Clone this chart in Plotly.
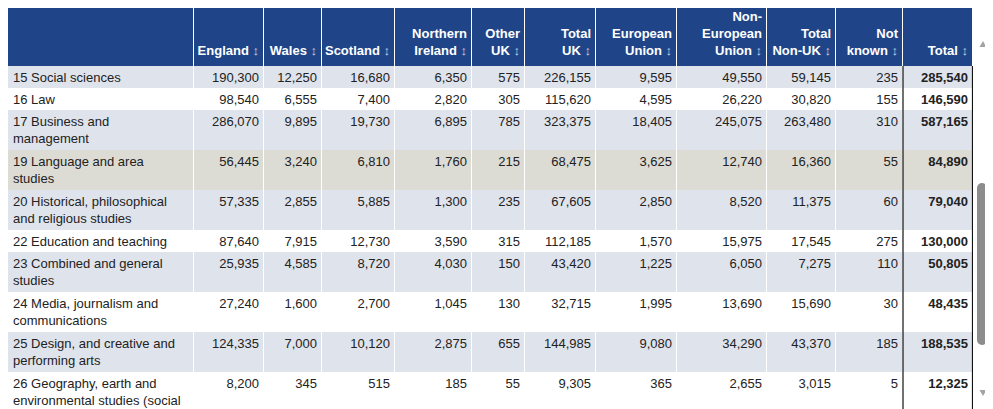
import numpy as np
import plotly.graph_objects as go

# ---------------- data ----------------
subjects = [
    "15 Social sciences",
    "16 Law",
    "17 Business and<br>management",
    "19 Language and area<br>studies",
    "20 Historical, philosophical<br>and religious studies",
    "22 Education and teaching",
    "23 Combined and general<br>studies",
    "24 Media, journalism and<br>communications",
    "25 Design, and creative and<br>performing arts",
    "26 Geography, earth and<br>environmental studies (social<br>sciences)",
]
england = [190300, 98540, 286070, 56445, 57335, 87640, 25935, 27240, 124335, 8200]
wales = [12250, 6555, 9895, 3240, 2855, 7915, 4585, 1600, 7000, 345]
scotland = [16680, 7400, 19730, 6810, 5885, 12730, 8720, 2700, 10120, 515]
northern_ireland = [6350, 2820, 6895, 1760, 1300, 3590, 4030, 1045, 2875, 185]
other_uk = [575, 305, 785, 215, 235, 315, 150, 130, 655, 55]
total_uk = [226155, 115620, 323375, 68475, 67605, 112185, 43420, 32715, 144985, 9305]
european_union = [9595, 4595, 18405, 3625, 2850, 1570, 1225, 1995, 9080, 365]
non_eu = [49550, 26220, 245075, 12740, 8520, 15975, 6050, 13690, 34290, 2655]
total_non_uk = [59145, 30820, 263480, 16360, 11375, 17545, 7275, 15690, 43370, 3015]
not_known = [235, 155, 310, 55, 60, 275, 110, 30, 185, 5]
total = [285540, 146590, 587165, 84890, 79040, 130000, 50805, 48435, 188535, 12325]

header_labels = [
    "",
    "England",
    "Wales",
    "Scotland",
    "Northern<br>Ireland",
    "Other<br>UK",
    "Total<br>UK",
    "European<br>Union",
    "Non-<br>European<br>Union",
    "Total<br>Non-UK",
    "Not<br>known",
    "Total",
]
value_columns = [england, wales, scotland, northern_ireland, other_uk, total_uk,
                 european_union, non_eu, total_non_uk, not_known, total]
hover_row = 3  # "19 Language and area studies" is highlighted

# ---------------- layout constants ----------------
FONT = "Liberation Sans, Arial, sans-serif"
col_widths = [186, 70, 58, 73, 77, 53, 71, 81, 90, 69, 67, 70]
HEADER_H = 62
LINE_H = 18
PAD = 5
GREY = "#dfe3ec"
WHITE = "#ffffff"
HOVER = "#dcdcd5"
HEAD = "#1f4588"
TEXT = "#222222"

x_edges = np.concatenate([[0], np.cumsum(col_widths)])
n_lines = [s.count("<br>") + 1 for s in subjects]
row_h = [4 + LINE_H * n for n in n_lines]
y_edges = np.concatenate([[0, HEADER_H], HEADER_H + np.cumsum(row_h)])
ncol = len(col_widths)
nrow = len(subjects)

# colour codes: 0 grey, 1 white, 2 hover, 3 header
z = [[3] * ncol]
for i in range(nrow):
    code = 2 if i == hover_row else (0 if i % 2 == 0 else 1)
    z.append([code] * ncol)

colorscale = [[0, GREY], [0.25, GREY], [0.25, WHITE], [0.5, WHITE],
              [0.5, HOVER], [0.75, HOVER], [0.75, HEAD], [1, HEAD]]

fig = go.Figure()
fig.add_trace(go.Heatmap(
    x=x_edges, y=y_edges, z=z, zmin=-0.5, zmax=3.5,
    colorscale=colorscale, showscale=False, xgap=1, ygap=0,
    hoverinfo="skip",
))

row_tops = y_edges[1:-1]

# subject labels
fig.add_trace(go.Scatter(
    x=[x_edges[0] + PAD] * nrow, y=row_tops + 6, mode="text",
    text=subjects, textposition="bottom right",
    textfont=dict(family=FONT, size=13, color=TEXT), hoverinfo="skip",
))

# numeric columns
for j, col in enumerate(value_columns):
    bold = j == len(value_columns) - 1
    txt = [f"<b>{v:,}</b>" if bold else f"{v:,}" for v in col]
    fig.add_trace(go.Scatter(
        x=[x_edges[j + 2] - PAD] * nrow, y=row_tops + 6, mode="text",
        text=txt, textposition="bottom left",
        textfont=dict(family=FONT, size=13, color=TEXT), hoverinfo="skip",
    ))

# header labels
arrow = "<span style='color:#c9d3e6'> ↕</span>"
head_txt = []
for lab in header_labels[1:]:
    parts = lab.split("<br>")
    parts[-1] = parts[-1] + arrow
    head_txt.append("<br>".join(f"<b>{p}</b>" for p in parts))
fig.add_trace(go.Scatter(
    x=x_edges[2:] - PAD, y=[HEADER_H - 8] * (ncol - 1), mode="text",
    text=head_txt, textposition="top left",
    textfont=dict(family=FONT, size=13, color="white"), hoverinfo="skip",
))

# black borders around the Total column
for xv in [x_edges[-2], x_edges[-1] - 0.5]:
    fig.add_shape(type="line", xref="x", yref="y", x0=xv, x1=xv,
                  y0=HEADER_H, y1=y_edges[-1], line=dict(color="#111111", width=1.2))

# figure geometry (page body adds an 8px offset)
OFF = 8
W, H = 985, 401
L, R, T, B = 0, 20, 0, 0
pw, ph = W - L - R, H - T - B
TOP_CROP = 4  # header starts 4px above the visible area


def px(xp):
    return (xp - OFF - L) / pw


def py(yp):
    return (H - B - (yp - OFF)) / ph


# scrollbar decoration
fig.add_shape(type="rect", xref="paper", yref="paper", x0=px(977), x1=px(987),
              y0=py(340), y1=py(188), fillcolor="#8c8c8c", line=dict(width=0))
for yc in [188, 340]:
    fig.add_shape(type="circle", xref="paper", yref="paper", x0=px(977), x1=px(987),
                  y0=py(yc + 5), y1=py(yc - 5), fillcolor="#8c8c8c", line=dict(width=0))


def tri(pts):
    return "M " + " L ".join(f"{px(a)},{py(b)}" for a, b in pts) + " Z"


fig.add_shape(type="path", xref="paper", yref="paper",
              path=tri([(979.5, 47), (986.5, 47), (983, 41)]),
              fillcolor="#a3a3a3", line=dict(width=0))
fig.add_shape(type="path", xref="paper", yref="paper",
              path=tri([(979.5, 390), (986.5, 390), (983, 396)]),
              fillcolor="#a3a3a3", line=dict(width=0))

fig.update_layout(
    width=W, height=H,
    margin=dict(l=L, r=R, t=T, b=B),
    paper_bgcolor="white", plot_bgcolor="white",
    showlegend=False,
    xaxis=dict(range=[0, pw], visible=False, fixedrange=True),
    yaxis=dict(range=[ph + TOP_CROP, TOP_CROP], visible=False, fixedrange=True),
)
fig.write_html("out.html")
